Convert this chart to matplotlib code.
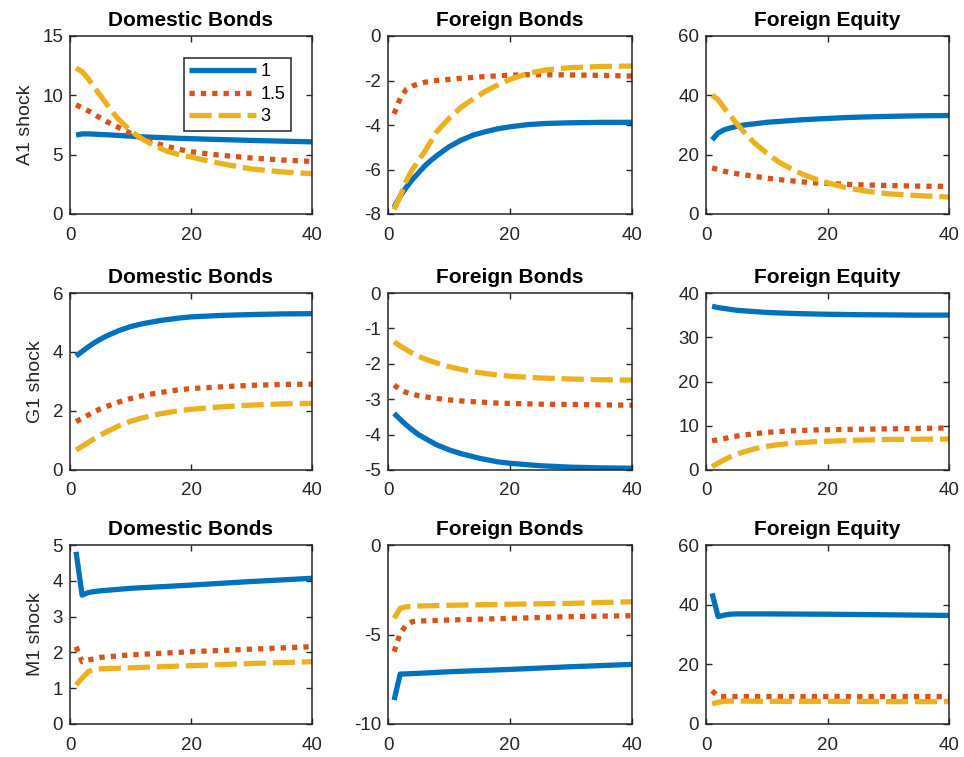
import numpy as np
import matplotlib
matplotlib.use("Agg")
import matplotlib.pyplot as plt

plt.rcParams['font.family'] = ['Liberation Sans', 'DejaVu Sans']
plt.rcParams['axes.unicode_minus'] = False

# MATLAB default line colours
blue = '#0072BD'
red = '#D95319'
yellow = '#EDB120'

legend_labels = ['1', '1.5', '3']
shock_names = ['A1 shock', 'G1 shock', 'M1 shock']
asset_names = ['Domestic Bonds', 'Foreign Bonds', 'Foreign Equity']

# A1 shock
a1_x = [1, 2, 3, 4, 5, 6, 7, 8, 10, 12, 14, 16, 18, 20, 23, 26, 30, 35, 40]
a1_dom_1 = [6.65, 6.75, 6.75, 6.73, 6.7, 6.68, 6.65, 6.62, 6.56, 6.5, 6.46, 6.42, 6.38, 6.35,
            6.3, 6.26, 6.2, 6.14, 6.08]
a1_dom_15 = [9.2, 8.95, 8.7, 8.4, 8.1, 7.8, 7.55, 7.3, 6.8, 6.35, 6.0, 5.7, 5.45, 5.25,
             5.05, 4.9, 4.72, 4.55, 4.43]
a1_dom_3 = [12.3, 12.0, 11.4, 10.7, 10.0, 9.3, 8.6, 8.0, 7.0, 6.3, 5.75, 5.3, 5.0, 4.8,
            4.45, 4.15, 3.8, 3.55, 3.4]

a1_fb_1 = [-7.7, -7.2, -6.8, -6.45, -6.15, -5.85, -5.6, -5.38, -4.98, -4.68, -4.45, -4.3,
           -4.17, -4.08, -3.98, -3.93, -3.9, -3.88, -3.88]
a1_fb_15 = [-3.5, -2.8, -2.4, -2.25, -2.15, -2.08, -2.03, -2.0, -1.95, -1.9, -1.86, -1.82,
            -1.79, -1.76, -1.74, -1.74, -1.75, -1.77, -1.8]
a1_fb_3 = [-7.8, -7.2, -6.5, -6.0, -5.6, -5.2, -4.75, -4.3, -3.7, -3.2, -2.82, -2.48,
           -2.2, -1.95, -1.68, -1.52, -1.42, -1.37, -1.35]

a1_fe_1 = [25.0, 27.3, 28.4, 29.0, 29.5, 29.9, 30.2, 30.4, 30.9, 31.2, 31.5, 31.8, 32.0,
           32.2, 32.5, 32.7, 32.9, 33.1, 33.2]
a1_fe_15 = [15.5, 15.0, 14.4, 14.0, 13.6, 13.3, 13.0, 12.7, 12.1, 11.6, 11.2, 10.8, 10.5,
            10.3, 10.0, 9.8, 9.6, 9.4, 9.3]
a1_fe_3 = [40.1, 38.5, 35.7, 33.2, 30.6, 28.2, 26.0, 23.9, 20.5, 17.5, 15.3, 13.3, 11.8,
           10.5, 8.9, 7.8, 6.8, 6.2, 5.7]

# G1 shock
g1_x = [1, 2, 3, 4, 5, 6, 8, 10, 12, 15, 18, 20, 25, 30, 35, 40]
g1_dom_1 = [3.86, 4.02, 4.17, 4.31, 4.43, 4.54, 4.72, 4.86, 4.96, 5.07, 5.15, 5.19, 5.24,
            5.27, 5.29, 5.3]
g1_dom_15 = [1.64, 1.75, 1.86, 1.97, 2.07, 2.15, 2.3, 2.42, 2.52, 2.63, 2.72, 2.76, 2.82,
             2.87, 2.9, 2.91]
g1_dom_3 = [0.68, 0.8, 0.93, 1.06, 1.18, 1.29, 1.49, 1.65, 1.77, 1.91, 2.01, 2.06, 2.14,
            2.2, 2.24, 2.26]

g1_fb_1 = [-3.4, -3.57, -3.73, -3.87, -4.0, -4.1, -4.29, -4.43, -4.54, -4.67, -4.77, -4.81,
           -4.88, -4.92, -4.94, -4.95]
g1_fb_15 = [-2.6, -2.73, -2.81, -2.86, -2.9, -2.93, -2.98, -3.02, -3.05, -3.08, -3.11, -3.12,
            -3.14, -3.15, -3.16, -3.17]
g1_fb_3 = [-1.38, -1.5, -1.6, -1.7, -1.79, -1.86, -1.98, -2.08, -2.16, -2.25, -2.32, -2.35,
           -2.4, -2.43, -2.45, -2.46]

g1_fe_1 = [37.0, 36.7, 36.5, 36.3, 36.1, 36.0, 35.8, 35.6, 35.5, 35.35, 35.25, 35.2, 35.1,
           35.05, 35.0, 35.0]
g1_fe_15 = [6.6, 6.85, 7.1, 7.4, 7.65, 7.85, 8.2, 8.5, 8.7, 8.9, 9.05, 9.1, 9.2, 9.3, 9.4, 9.5]
g1_fe_3 = [0.75, 1.55, 2.3, 2.95, 3.5, 4.0, 4.8, 5.35, 5.75, 6.15, 6.4, 6.5, 6.75, 6.9,
           6.95, 7.0]

# M1 shock
m1_x = [1, 2, 3, 4, 5, 10, 20, 30, 40]
m1_dom_1 = [4.81, 3.6, 3.67, 3.7, 3.72, 3.79, 3.88, 3.98, 4.07]
m1_dom_15 = [2.16, 1.74, 1.79, 1.82, 1.86, 1.93, 2.02, 2.09, 2.16]
m1_dom_3 = [1.09, 1.28, 1.46, 1.53, 1.54, 1.57, 1.63, 1.69, 1.74]

m1_fb_1 = [-8.66, -7.21, -7.2, -7.18, -7.17, -7.08, -6.95, -6.8, -6.67]
m1_fb_15 = [-5.96, -4.93, -4.47, -4.28, -4.25, -4.19, -4.1, -4.0, -3.95]
m1_fb_3 = [-4.1, -3.54, -3.45, -3.43, -3.41, -3.37, -3.31, -3.26, -3.17]

m1_fe_1 = [43.8, 36.0, 36.5, 36.8, 36.9, 36.9, 36.8, 36.6, 36.4]
m1_fe_15 = [11.2, 9.2, 9.2, 9.2, 9.2, 9.2, 9.2, 9.2, 9.2]
m1_fe_3 = [6.7, 7.3, 7.6, 7.7, 7.7, 7.6, 7.6, 7.5, 7.5]

panels = [
    [(a1_x, a1_dom_1, a1_dom_15, a1_dom_3, (0, 15), [0, 5, 10, 15]),
     (a1_x, a1_fb_1, a1_fb_15, a1_fb_3, (-8, 0), [-8, -6, -4, -2, 0]),
     (a1_x, a1_fe_1, a1_fe_15, a1_fe_3, (0, 60), [0, 20, 40, 60])],
    [(g1_x, g1_dom_1, g1_dom_15, g1_dom_3, (0, 6), [0, 2, 4, 6]),
     (g1_x, g1_fb_1, g1_fb_15, g1_fb_3, (-5, 0), [-5, -4, -3, -2, -1, 0]),
     (g1_x, g1_fe_1, g1_fe_15, g1_fe_3, (0, 40), [0, 10, 20, 30, 40])],
    [(m1_x, m1_dom_1, m1_dom_15, m1_dom_3, (0, 5), [0, 1, 2, 3, 4, 5]),
     (m1_x, m1_fb_1, m1_fb_15, m1_fb_3, (-10, 0), [-10, -5, 0]),
     (m1_x, m1_fe_1, m1_fe_15, m1_fe_3, (0, 60), [0, 20, 40, 60])],
]

W, H = 964, 757
fig = plt.figure(figsize=(W / 100, H / 100), dpi=100)

col_left = [70, 388, 706]
col_width = [242, 244, 243]
row_top = [36, 293, 545]
row_bottom = [214, 470, 724]

axis_col = '#262626'
lw = 3.8

for r in range(3):
    for c in range(3):
        x, s1, s15, s3, ylim, yticks = panels[r][c]
        ax = fig.add_axes([col_left[c] / W, 1 - row_bottom[r] / H,
                           col_width[c] / W, (row_bottom[r] - row_top[r]) / H])
        ax.plot(x, s1, color=blue, lw=lw, solid_capstyle='butt',
                solid_joinstyle='round', label=legend_labels[0])
        ax.plot(x, s15, color=red, lw=lw, linestyle=(0, (1.0, 1.15)),
                dash_capstyle='butt', label=legend_labels[1])
        ax.plot(x, s3, color=yellow, lw=lw, linestyle=(0, (4.2, 1.3)),
                dash_capstyle='butt', label=legend_labels[2])
        ax.set_xlim(0, 40)
        ax.set_ylim(*ylim)
        ax.set_xticks([0, 20, 40])
        ax.set_yticks(yticks)
        ax.tick_params(direction='in', top=True, right=True, length=4, width=1,
                       color=axis_col, labelcolor=axis_col, labelsize=13.5)
        ax.tick_params(axis='x', pad=9)
        ax.tick_params(axis='y', pad=5)
        for sp in ax.spines.values():
            sp.set_color(axis_col)
            sp.set_linewidth(1.1)
        ax.set_title(asset_names[c], fontsize=15, fontweight='bold', pad=7.5)
        if c == 0:
            ax.set_ylabel(shock_names[r], fontsize=14, color=axis_col, labelpad=6)
        if r == 0 and c == 0:
            leg = ax.legend(loc='upper right', bbox_to_anchor=(0.913, 0.876),
                            fontsize=13, handlelength=3.7, handletextpad=0.25,
                            borderpad=0.3, labelspacing=0.3, fancybox=False,
                            framealpha=1, borderaxespad=0)
            leg.get_frame().set_edgecolor('#262626')
            leg.get_frame().set_linewidth(1.1)

fig.savefig('out.png', dpi=100)
